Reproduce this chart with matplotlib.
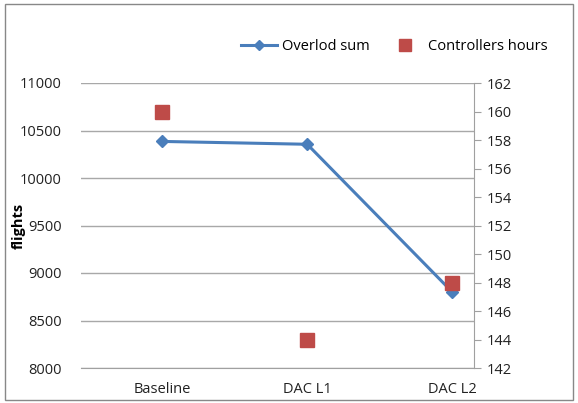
import matplotlib.pyplot as plt
from matplotlib.patches import Rectangle

categories = ['Baseline', 'DAC L1', 'DAC L2']
overload_sum = [10385, 10355, 8800]
controllers_hours = [160, 144, 148]

plt.rcParams['font.family'] = ['Open Sans', 'DejaVu Sans']

fig = plt.figure(figsize=(5.78, 4.03), dpi=100)
ax = fig.add_axes([81 / 578, 1 - 368 / 403, 393 / 578, 285 / 403])
ax2 = ax.twinx()

x = list(range(len(categories)))
line, = ax.plot(x, overload_sum, color='#4a7ebb', lw=2.2, marker='D', ms=6,
                label='Overlod sum', zorder=3)
sq, = ax2.plot(x, controllers_hours, ls='none', marker='s', ms=10,
               color='#be4b48', label='Controllers hours', zorder=4)

ax.set_xlim(-0.56, 2.15)
ax.set_ylim(8000, 11000)
ax.set_yticks(range(8000, 11001, 500))
ax2.set_ylim(142, 162)
ax2.set_yticks(range(142, 163, 2))
ax.set_xticks(x)
ax.set_xticklabels(categories)

ax.grid(axis='y', color='#a8a8a8', lw=1)
ax.set_axisbelow(True)
for s in ['top', 'left', 'right']:
    ax.spines[s].set_visible(False)
    ax2.spines[s].set_visible(False)
ax2.spines['right'].set_visible(True)
ax2.spines['right'].set_color('#a0a0a0')
ax.spines['bottom'].set_color('#a0a0a0')
ax2.spines['bottom'].set_visible(False)

ax.tick_params(axis='y', length=0, labelsize=10.5, pad=14, colors='#222222')
ax.tick_params(axis='x', length=0, labelsize=10.5, pad=10, colors='#222222')
ax2.tick_params(axis='y', length=5, color='#a0a0a0', labelsize=10.5, pad=4,
                labelcolor='#222222')

fig.text(19 / 578, 1 - 226 / 403, 'flights', rotation=90, ha='center',
         va='center', fontsize=10.5, fontweight='bold')

fig.legend(handles=[line, sq], loc='center', bbox_to_anchor=(0.682, 1 - 47 / 403),
           ncol=2, frameon=False, fontsize=10.5, handlelength=2.5,
           columnspacing=1.2, handletextpad=0.3, markerscale=0.9)

fig.patches.append(Rectangle((5 / 578, 3 / 403), 568 / 578, 396 / 403,
                             transform=fig.transFigure, fill=False,
                             edgecolor='#888888', lw=1))

fig.savefig('out.png', dpi=100)
